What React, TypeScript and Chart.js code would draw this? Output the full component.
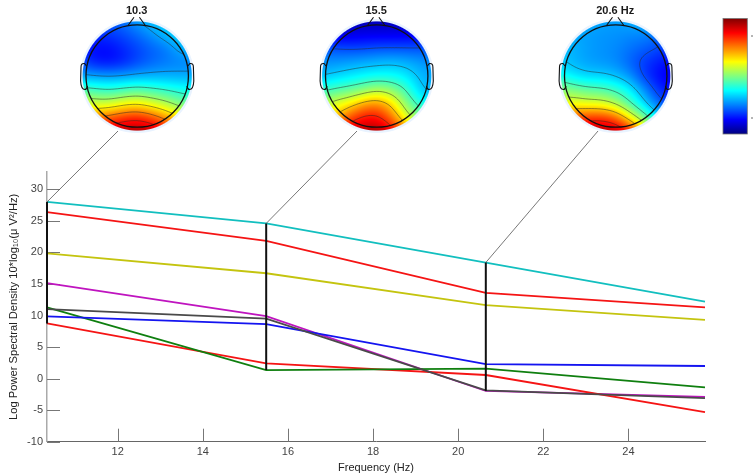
import React, { useEffect, useRef } from "react";
import { Chart, registerables } from "chart.js";

Chart.register(...registerables);

const frequencies = [10.34, 15.49, 20.65, 25.8];
const channelCyan = [28.0, 24.6, 18.4, 12.2];
const channelRedUpper = [26.4, 21.85, 13.6, 11.3];
const channelOlive = [19.85, 16.7, 11.66, 9.3];
const channelPurple = [15.15, 9.9, -1.96, -2.9];
const channelGray = [11.0, 9.5, -1.85, -3.1];
const channelBlue = [9.85, 8.65, 2.3, 2.0];
const channelGreen = [11.3, 1.36, 1.57, -1.4];
const channelRedLower = [8.75, 2.4, 0.57, -5.3];

const xTicks = [12, 14, 16, 18, 20, 22, 24];
const yTicks = [-10, -5, 0, 5, 10, 15, 20, 25, 30];
const mapTitles = ["10.3", "15.5", "20.6 Hz"];
const levels10 = [0.28, 0.42, 0.53, 0.64, 0.75, 0.86];
const levels15 = [0.2, 0.32, 0.44, 0.56, 0.68, 0.84];
const levels20 = [0.2, 0.32, 0.44, 0.56, 0.68, 0.85];

const map10 = [
  [0.22, 0.22, 0.22, 0.24, 0.29, 0.32, 0.33, 0.34, 0.34],
  [0.17, 0.17, 0.18, 0.2, 0.23, 0.27, 0.32, 0.34, 0.35],
  [0.14, 0.13, 0.13, 0.16, 0.19, 0.22, 0.24, 0.3, 0.32],
  [0.2, 0.14, 0.13, 0.15, 0.19, 0.22, 0.24, 0.25, 0.25],
  [0.285, 0.28, 0.275, 0.28, 0.29, 0.295, 0.295, 0.29, 0.29],
  [0.46, 0.44, 0.42, 0.44, 0.46, 0.44, 0.42, 0.4, 0.39],
  [0.6, 0.58, 0.58, 0.62, 0.64, 0.6, 0.56, 0.5, 0.46],
  [0.72, 0.76, 0.8, 0.84, 0.86, 0.82, 0.74, 0.66, 0.58],
  [0.85, 0.9, 0.93, 0.96, 0.97, 0.95, 0.9, 0.82, 0.76],
];
const map15 = [
  [0.03, 0.04, 0.05, 0.05, 0.05, 0.05, 0.06, 0.06, 0.07],
  [0.09, 0.09, 0.09, 0.1, 0.1, 0.1, 0.1, 0.11, 0.12],
  [0.21, 0.2, 0.19, 0.19, 0.2, 0.2, 0.2, 0.2, 0.21],
  [0.27, 0.27, 0.28, 0.29, 0.3, 0.31, 0.3, 0.28, 0.26],
  [0.31, 0.33, 0.35, 0.37, 0.38, 0.38, 0.36, 0.31, 0.29],
  [0.42, 0.45, 0.47, 0.5, 0.55, 0.52, 0.45, 0.33, 0.29],
  [0.55, 0.6, 0.64, 0.72, 0.75, 0.68, 0.52, 0.42, 0.36],
  [0.62, 0.68, 0.8, 0.87, 0.88, 0.78, 0.62, 0.5, 0.42],
  [0.78, 0.86, 0.93, 0.96, 0.97, 0.92, 0.78, 0.62, 0.5],
];
const map20 = [
  [0.3, 0.3, 0.3, 0.29, 0.28, 0.3, 0.32, 0.3, 0.25],
  [0.3, 0.29, 0.28, 0.27, 0.27, 0.26, 0.26, 0.24, 0.2],
  [0.32, 0.3, 0.28, 0.27, 0.26, 0.24, 0.22, 0.2, 0.17],
  [0.32, 0.3, 0.28, 0.27, 0.26, 0.22, 0.18, 0.15, 0.13],
  [0.4, 0.35, 0.33, 0.33, 0.31, 0.27, 0.18, 0.13, 0.1],
  [0.52, 0.5, 0.47, 0.46, 0.43, 0.37, 0.27, 0.17, 0.13],
  [0.6, 0.62, 0.6, 0.6, 0.55, 0.45, 0.34, 0.23, 0.17],
  [0.78, 0.8, 0.84, 0.84, 0.8, 0.64, 0.5, 0.35, 0.27],
  [0.9, 0.93, 0.96, 0.97, 0.95, 0.9, 0.7, 0.5, 0.35],
];
const mapFields = [map10, map15, map20];
const mapLevels = [levels10, levels15, levels20];

const mapCenters = [
  { cx: 137.2, cy: 76 },
  { cx: 376.7, cy: 76 },
  { cx: 615.7, cy: 76 },
];
const R = 51.2;
const GRID_EXTENT = 1.1;
const connectorTops = [
  { x: 118, y: 131 },
  { x: 357, y: 131 },
  { x: 598, y: 131 },
];
const connectorBases = [
  { freq: 10.34, val: 28.0 },
  { freq: 15.49, val: 24.6 },
  { freq: 20.65, val: 18.4 },
];

function jet(t: number): [number, number, number] {
  const c = (v: number) => Math.max(0, Math.min(1, v));
  const r = c(Math.min(4 * t - 1.5, -4 * t + 4.5));
  const g = c(Math.min(4 * t - 0.5, -4 * t + 3.5));
  const b = c(Math.min(4 * t + 0.5, -4 * t + 2.5));
  return [r * 255, g * 255, b * 255];
}

function bs(p0: number, p1: number, p2: number, p3: number, f: number) {
  const f2 = f * f;
  const f3 = f2 * f;
  return (
    ((1 - 3 * f + 3 * f2 - f3) * p0 + (4 - 6 * f2 + 3 * f3) * p1 + (1 + 3 * f + 3 * f2 - 3 * f3) * p2 + f3 * p3) / 6
  );
}

function sample(field: number[][], nx: number, ny: number) {
  const n = field.length;
  const gx = ((nx + GRID_EXTENT) / (2 * GRID_EXTENT)) * (n - 1);
  const gy = ((ny + GRID_EXTENT) / (2 * GRID_EXTENT)) * (n - 1);
  const ix = Math.max(0, Math.min(n - 2, Math.floor(gx)));
  const iy = Math.max(0, Math.min(n - 2, Math.floor(gy)));
  const fx = gx - ix;
  const fy = gy - iy;
  const at = (r: number, k: number) => {
    const rr = Math.max(0, Math.min(n - 1, r));
    const kk = Math.max(0, Math.min(n - 1, k));
    return field[rr][kk];
  };
  const rows = [-1, 0, 1, 2].map((d) =>
    bs(at(iy + d, ix - 1), at(iy + d, ix), at(iy + d, ix + 1), at(iy + d, ix + 2), fx)
  );
  return Math.max(0, Math.min(1, bs(rows[0], rows[1], rows[2], rows[3], fy)));
}

function drawHead(
  ctx: CanvasRenderingContext2D,
  field: number[][],
  levels: number[],
  cx: number,
  cy: number,
  title: string
) {
  ctx.save();
  ctx.fillStyle = "#e9f3ff";
  ctx.beginPath();
  ctx.arc(cx, cy, R + 5.8, 0, Math.PI * 2);
  ctx.fill();
  ctx.restore();

  const rimR = R + 3.4;
  const size = Math.ceil(rimR * 2) + 4;
  const off = document.createElement("canvas");
  off.width = size;
  off.height = size;
  const octx = off.getContext("2d")!;
  const img = octx.createImageData(size, size);
  const ox = Math.floor(cx - size / 2);
  const oy = Math.floor(cy - size / 2);
  for (let j = 0; j < size; j++) {
    for (let i = 0; i < size; i++) {
      const dx = ox + i + 0.5 - cx;
      const dy = oy + j + 0.5 - cy;
      const d = Math.hypot(dx, dy);
      const a = Math.max(0, Math.min(1, rimR + 0.5 - d));
      if (a <= 0) continue;
      const [r, g, b] = jet(sample(field, dx / R, dy / R));
      const k = (j * size + i) * 4;
      img.data[k] = r;
      img.data[k + 1] = g;
      img.data[k + 2] = b;
      img.data[k + 3] = a * 255;
    }
  }
  octx.putImageData(img, 0, 0);
  ctx.drawImage(off, ox, oy);

  ctx.save();
  ctx.beginPath();
  ctx.arc(cx, cy, R, 0, Math.PI * 2);
  ctx.clip();
  ctx.strokeStyle = "rgba(40,40,40,0.7)";
  ctx.lineWidth = 0.7;
  const step = 1.5;
  for (const level of levels) {
    ctx.beginPath();
    for (let y = -R - step; y < R + step; y += step) {
      for (let x = -R - step; x < R + step; x += step) {
        const v = [
          sample(field, x / R, y / R),
          sample(field, (x + step) / R, y / R),
          sample(field, (x + step) / R, (y + step) / R),
          sample(field, x / R, (y + step) / R),
        ];
        const corners = [
          [x, y],
          [x + step, y],
          [x + step, y + step],
          [x, y + step],
        ];
        const pts: number[][] = [];
        for (let e = 0; e < 4; e++) {
          const a = v[e];
          const b = v[(e + 1) % 4];
          if ((a < level) !== (b < level)) {
            const f = (level - a) / (b - a);
            const p = corners[e];
            const q = corners[(e + 1) % 4];
            pts.push([p[0] + (q[0] - p[0]) * f, p[1] + (q[1] - p[1]) * f]);
          }
        }
        for (let s = 0; s + 1 < pts.length; s += 2) {
          ctx.moveTo(cx + pts[s][0], cy + pts[s][1]);
          ctx.lineTo(cx + pts[s + 1][0], cy + pts[s + 1][1]);
        }
      }
    }
    ctx.stroke();
  }
  ctx.restore();

  ctx.save();
  ctx.strokeStyle = "#111";
  ctx.lineWidth = 1.3;
  ctx.beginPath();
  ctx.arc(cx, cy, R, 0, Math.PI * 2);
  ctx.stroke();
  ctx.lineWidth = 1.1;
  ctx.beginPath();
  ctx.moveTo(cx - 9, cy - R + 0.5);
  ctx.lineTo(cx - 3.2, cy - R - 7.5);
  ctx.moveTo(cx + 2.2, cy - R - 7.5);
  ctx.lineTo(cx + 8, cy - R + 0.5);
  ctx.stroke();
  for (const side of [-1, 1]) {
    ctx.beginPath();
    ctx.moveTo(cx + side * (R - 0.5), cy - 10);
    ctx.lineTo(cx + side * (R + 1.5), cy - 12.5);
    ctx.quadraticCurveTo(cx + side * (R + 5), cy - 13, cx + side * (R + 5), cy - 9);
    ctx.lineTo(cx + side * (R + 5.4), cy + 5);
    ctx.quadraticCurveTo(cx + side * (R + 5), cy + 13.5, cx + side * (R + 1), cy + 13.5);
    ctx.quadraticCurveTo(cx + side * (R - 0.5), cy + 13.5, cx + side * (R - 1.5), cy + 10);
    ctx.stroke();
  }
  ctx.restore();

  ctx.save();
  ctx.fillStyle = "#1a1a1a";
  ctx.font = "bold 11px 'Liberation Sans'";
  ctx.textAlign = "center";
  ctx.textBaseline = "middle";
  ctx.fillText(title, cx - 0.5, 10.5);
  ctx.restore();
}

const decorPlugin = {
  id: "decor",
  beforeDatasetsDraw(chart: any) {
    const { ctx, scales } = chart;
    const x = scales.x;
    const y = scales.y;
    ctx.save();
    ctx.strokeStyle = "#777";
    ctx.lineWidth = 1;
    const tick = 13;
    for (const t of xTicks) {
      const px = Math.round(x.getPixelForValue(t)) + 0.5;
      ctx.beginPath();
      ctx.moveTo(px, y.bottom);
      ctx.lineTo(px, y.bottom - tick);
      ctx.stroke();
    }
    for (const t of yTicks) {
      const py = Math.round(y.getPixelForValue(t)) + 0.5;
      ctx.beginPath();
      ctx.moveTo(x.left, py);
      ctx.lineTo(x.left + tick, py);
      ctx.stroke();
    }
    ctx.restore();
  },
  afterDraw(chart: any) {
    const { ctx, scales } = chart;
    const x = scales.x;
    const y = scales.y;
    ctx.save();
    ctx.strokeStyle = "#555";
    ctx.lineWidth = 0.8;
    connectorBases.forEach((b, i) => {
      ctx.beginPath();
      ctx.moveTo(x.getPixelForValue(b.freq), y.getPixelForValue(b.val));
      ctx.lineTo(connectorTops[i].x, connectorTops[i].y);
      ctx.stroke();
    });
    ctx.restore();

    mapFields.forEach((f, i) => drawHead(ctx, f, mapLevels[i], mapCenters[i].cx, mapCenters[i].cy, mapTitles[i]));

    const bx = 723;
    const by = 18.5;
    const bw = 24.3;
    const bh = 115.5;
    const grad = ctx.createLinearGradient(0, by + bh, 0, by);
    for (let k = 0; k <= 32; k++) {
      const [r, g, b] = jet(k / 32);
      grad.addColorStop(k / 32, `rgb(${r},${g},${b})`);
    }
    ctx.save();
    ctx.fillStyle = grad;
    ctx.fillRect(bx, by, bw, bh);
    ctx.strokeStyle = "#777";
    ctx.lineWidth = 0.8;
    ctx.strokeRect(bx, by, bw, bh);
    ctx.strokeStyle = "#444";
    for (const ty of [36, 118]) {
      ctx.beginPath();
      ctx.moveTo(751, ty);
      ctx.lineTo(753, ty);
      ctx.stroke();
    }
    ctx.restore();
  },
};

function line(label: string, values: number[], color: string, width = 1.8) {
  return {
    label,
    data: frequencies.map((f, i) => ({ x: f, y: values[i] })),
    borderColor: color,
    backgroundColor: color,
    borderWidth: width,
    pointRadius: 0,
    tension: 0,
    fill: false,
    clip: false as const,
  };
}

function marker(label: string, index: number, seriesTop: number[], seriesBottom: number[]) {
  return {
    label,
    data: [
      { x: frequencies[index], y: seriesTop[index] },
      { x: frequencies[index], y: seriesBottom[index] },
    ],
    borderColor: "#111111",
    backgroundColor: "#111111",
    borderWidth: 2,
    pointRadius: 0,
    tension: 0,
    clip: false as const,
  };
}

export default function App() {
  const ref = useRef<HTMLCanvasElement>(null);
  useEffect(() => {
    document.body.style.margin = "0";
    const chart = new Chart(ref.current!, {
      type: "line",
      data: {
        datasets: [
          marker("10.3 Hz", 0, channelCyan, channelRedLower),
          marker("15.5 Hz", 1, channelCyan, channelGreen),
          marker("20.6 Hz", 2, channelCyan, channelPurple),
          line("Ch 1", channelGray, "#4a4a4a"),
          line("Ch 2", channelBlue, "#1414f0"),
          line("Ch 3", channelGreen, "#0f7f0f"),
          line("Ch 4", channelRedLower, "#f51414"),
          line("Ch 5", channelPurple, "#bf14bf"),
          line("Ch 6", channelOlive, "#c4c40f"),
          line("Ch 7", channelRedUpper, "#f51414"),
          line("Ch 8", channelCyan, "#12bfbf"),
        ],
      },
      options: {
        responsive: false,
        animation: false,
        layout: { padding: { top: 172, right: 48, left: 0, bottom: 0 } },
        plugins: { legend: { display: false }, tooltip: { enabled: false } },
        scales: {
          x: {
            type: "linear",
            min: 10.34,
            max: 25.8,
            grid: { display: false, drawTicks: false },
            border: { display: true, color: "#666", width: 1 },
            afterBuildTicks: (s: any) => {
              s.ticks = xTicks.map((v) => ({ value: v }));
            },
            afterFit: (s: any) => {
              s.height = 32.3;
            },
            ticks: {
              color: "#444",
              padding: 4,
              maxRotation: 0,
              font: { family: "'Liberation Sans'", size: 11 },
            },
            title: {
              display: true,
              text: "Frequency (Hz)",
              color: "#222",
              font: { family: "'Liberation Sans'", size: 11 },
              padding: { top: 0, bottom: -1 },
            },
          },
          y: {
            type: "linear",
            min: -10,
            max: 32.75,
            grid: { display: false, drawTicks: false },
            border: { display: true, color: "#aaa", width: 1.5 },
            afterBuildTicks: (s: any) => {
              s.ticks = yTicks.map((v) => ({ value: v }));
            },
            afterFit: (s: any) => {
              s.width = 47;
            },
            ticks: {
              color: "#444",
              padding: 4,
              font: { family: "'Liberation Sans'", size: 11 },
            },
            title: {
              display: true,
              text: "Log Power Spectral Density 10*log₁₀(μ V²/Hz)",
              color: "#222",
              font: { family: "'Liberation Sans'", size: 11.2 },
              padding: { top: 7, bottom: 0 },
            },
          },
        },
      },
      plugins: [decorPlugin],
    } as any);
    return () => chart.destroy();
  }, []);
  return <canvas ref={ref} width={753} height={474} style={{ display: "block" }} />;
}
